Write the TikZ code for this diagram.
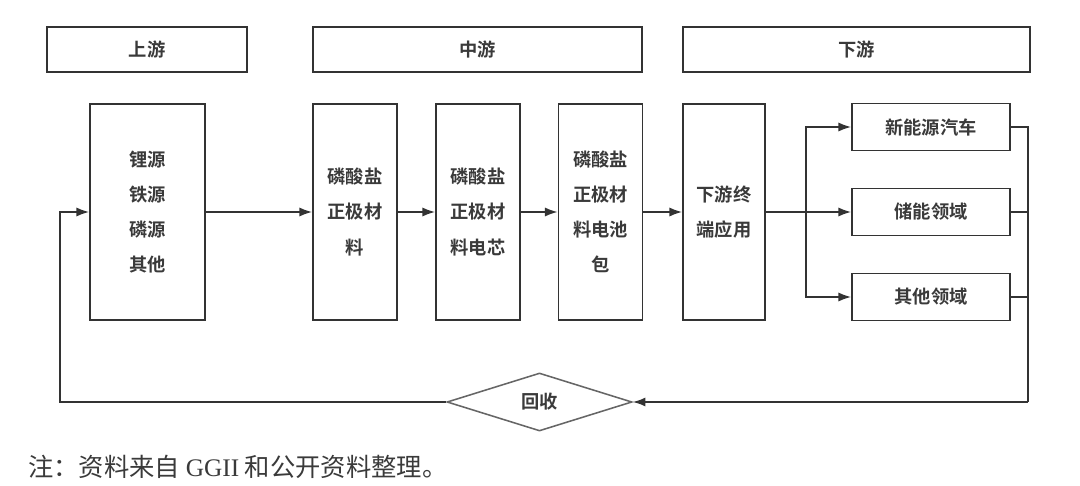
\documentclass[tikz,border=0pt]{standalone}
\usepackage{fontspec}
\setmainfont{Liberation Serif}
\newfontfamily\cjk{Noto Sans CJK SC}[BoldFont={Noto Sans CJK SC Bold}]
\usetikzlibrary{arrows.meta,shapes.geometric}
\definecolor{linegray}{HTML}{333333}
\definecolor{textgray}{HTML}{3A3A3A}
\begin{document}
\begin{tikzpicture}[x=0.025cm,y=-0.025cm,
  >={Latex[length=9pt,width=6.5pt]},
  link/.style={draw=linegray, line width=1.2pt},
  head/.style={draw=linegray, line width=1.2pt, inner sep=0pt, minimum height=1.125cm, font=\cjk\bfseries\fontsize{13}{15}\selectfont, text=textgray},
  stage/.style={draw=linegray, line width=1.2pt, inner sep=0pt, minimum height=5.4cm, align=center, font=\cjk\bfseries\fontsize{13}{25}\selectfont, text=textgray},
  field/.style={draw=linegray, line width=1.2pt, inner sep=0pt, minimum width=3.95cm, minimum height=1.175cm, font=\cjk\bfseries\fontsize{13}{15}\selectfont, text=textgray}]
\useasboundingbox (0,0) rectangle (1080,486);

% stage headers
\node[head, minimum width=5cm] (up) at (147,49.5) {上游};
\node[head, minimum width=8.225cm] (mid) at (477.5,49.5) {中游};
\node[head, minimum width=8.675cm] (down) at (856.5,49.5) {下游};

% chain
\node[stage, minimum width=2.875cm] (src) at (147.5,212) {锂源\\铁源\\磷源\\其他};
\node[stage, minimum width=2.1cm] (pcm) at (355,212) {磷酸盐\\正极材\\料};
\node[stage, minimum width=2.1cm] (cell) at (478,212) {磷酸盐\\正极材\\料电芯};
\node[stage, minimum width=2.1cm] (pack) at (600.5,212) {磷酸盐\\正极材\\料电池\\包};
\node[stage, minimum width=2.05cm] (app) at (724,212) {下游终\\端应用};

% end uses
\node[field] (nev) at (931,127) {新能源汽车};
\node[field] (ess) at (931,212) {储能领域};
\node[field] (oth) at (931,297) {其他领域};

% recycling
\node[diamond, draw=linegray!75, line width=1.1pt, inner sep=0pt, minimum width=4.625cm, minimum height=1.45cm, font=\cjk\bfseries\fontsize{13}{15}\selectfont, text=textgray] (rec) at (539.5,402) {回收};

\node[anchor=west, inner sep=0pt, text=textgray, font=\fontsize{18}{20}\selectfont] (note) at (28,467) {\cjk 注：资料来自\ {\rmfamily GGII}\ 和公开资料整理。};

\coordinate (split) at (806,212);
\coordinate (back) at (1028,402);
\coordinate (turn) at (60,402);

\draw[link,->] (src) -- (pcm);
\draw[link,->] (pcm) -- (cell);
\draw[link,->] (cell) -- (pack);
\draw[link,->] (pack) -- (app);
\draw[link,->] (app.east) -- (ess.west);
\draw[link,->] (split) |- (nev.west);
\draw[link,->] (split) |- (oth.west);
\draw[link] (nev.east) -| (back);
\draw[link] (ess.east) -- (ess.east -| back);
\draw[link] (oth.east) -- (oth.east -| back);
\draw[link,->] (back) -- (rec.east);
\draw[link,->] (rec.west) -- (turn) |- (src.west);
\end{tikzpicture}
\end{document}
